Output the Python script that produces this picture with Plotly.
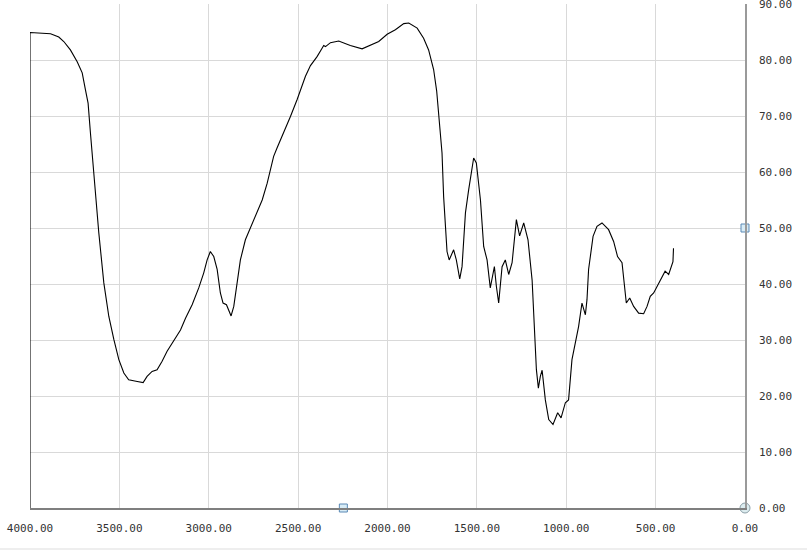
import plotly.graph_objects as go

# Spectrum data (wavenumber, transmittance %)
wavenumber = [4000, 4000, 3885, 3839, 3811, 3774, 3736, 3708, 3690, 3675, 3662, 3647, 3630, 3615, 3587,
              3559, 3531, 3503, 3475, 3448, 3400, 3367, 3345, 3317, 3289, 3261, 3233, 3196, 3158,
              3130, 3093, 3056, 3028, 3009, 2991, 2972, 2953, 2935, 2920, 2901, 2888, 2875, 2860,
              2841, 2823, 2795, 2767, 2729, 2701, 2673, 2637, 2618, 2581, 2543, 2506, 2459, 2431,
              2394, 2366, 2357, 2347, 2319, 2273, 2208, 2142, 2096, 2049, 2002, 1956, 1909, 1881,
              1834, 1798, 1770, 1742, 1725, 1710, 1695, 1686, 1676, 1667, 1655, 1630, 1615, 1596,
              1583, 1564, 1546, 1518, 1503, 1480, 1462, 1443, 1425, 1402, 1391, 1378, 1359, 1341,
              1322, 1303, 1279, 1261, 1238, 1214, 1191, 1186, 1178, 1167, 1156, 1145, 1135, 1126,
              1117, 1098, 1074, 1048, 1029, 1005, 987, 968, 949, 931, 912, 893, 884, 875, 850, 828,
              800, 763, 735, 713, 688, 679, 664, 645, 623, 595, 567, 548, 530, 511, 492, 474, 447,
              427, 403, 400]
transmittance = [0, 84.9, 84.7, 84.1, 83.3, 81.8, 79.7, 77.7, 74.7, 72.3, 67.0, 61.0, 55.0, 49.1, 40.2,
                 34.2, 30.1, 26.5, 24.1, 22.9, 22.6, 22.4, 23.5, 24.4, 24.7, 26.2, 28.0, 29.8, 31.8,
                 33.9, 36.3, 39.3, 42.0, 44.3, 45.8, 44.9, 42.6, 38.4, 36.6, 36.3, 35.1, 34.3, 36.0,
                 40.2, 44.3, 47.9, 50.0, 52.7, 55.0, 58.0, 62.8, 64.3, 67.0, 69.9, 72.9, 77.1, 79.0,
                 80.6, 82.1, 82.6, 82.4, 83.1, 83.4, 82.6, 82.0, 82.6, 83.3, 84.6, 85.4, 86.5, 86.6,
                 85.7, 83.9, 81.8, 78.3, 74.5, 69.3, 63.4, 55.6, 49.7, 45.8, 44.3, 46.1, 44.3, 40.9,
                 43.1, 52.7, 56.8, 62.5, 61.6, 55.0, 46.7, 44.3, 39.3, 43.1, 39.6, 36.6, 43.1, 44.3,
                 41.7, 43.8, 51.5, 48.6, 50.9, 47.9, 40.7, 37.2, 31.3, 24.7, 21.4, 23.5, 24.6, 21.7,
                 19.3, 15.8, 14.9, 17.0, 16.1, 18.8, 19.3, 26.5, 29.5, 32.4, 36.6, 34.5, 37.2, 42.6,
                 48.5, 50.3, 50.9, 49.7, 47.6, 44.9, 43.8, 40.8, 36.6, 37.5, 36.0, 34.8, 34.7, 36.0,
                 37.8, 38.4, 39.6, 40.8, 42.3, 41.7, 44.0, 46.4]

x_ticks = [4000, 3500, 3000, 2500, 2000, 1500, 1000, 500, 0]
y_ticks = [0, 10, 20, 30, 40, 50, 60, 70, 80, 90]

# Axis handles (decorative)
square_handle_x = [0, 2247]
square_handle_y = [50, 0]
circle_handle_x = [0]
circle_handle_y = [0]

FONT = "DejaVu Sans Mono"

fig = go.Figure()
fig.add_trace(go.Scatter(x=wavenumber, y=transmittance, mode="lines", cliponaxis=False,
                         line=dict(color="#000000", width=1.1), showlegend=False,
                         hoverinfo="x+y"))
fig.add_trace(go.Scatter(x=square_handle_x, y=square_handle_y, mode="markers", cliponaxis=False,
                         marker=dict(symbol="square", size=8, color="#d8ecf6",
                                     line=dict(color="#5a89b5", width=1)),
                         showlegend=False, hoverinfo="skip"))
fig.add_trace(go.Scatter(x=circle_handle_x, y=circle_handle_y, mode="markers", cliponaxis=False,
                         marker=dict(symbol="circle", size=10, color="#dcecef",
                                     line=dict(color="#8a9ea6", width=1)),
                         showlegend=False, hoverinfo="skip"))

fig.update_layout(
    width=807, height=550,
    margin=dict(l=30, r=62, t=4, b=42, autoexpand=False),
    paper_bgcolor="#ffffff", plot_bgcolor="#ffffff",
    font=dict(family=FONT, size=11, color="#333333"),
    xaxis=dict(range=[4000, 0], tickvals=x_ticks, tickformat=".2f",
               showgrid=True, gridcolor="#d9d9d9", gridwidth=1, zeroline=False,
               showline=True, linecolor="#7f7f7f", linewidth=1.5, ticks="",
               ticklabelstandoff=9, ticklabeloverflow="allow",
               automargin=False, fixedrange=True),
    yaxis=dict(range=[0, 90], tickvals=y_ticks, tickformat=".2f", side="right",
               showgrid=True, gridcolor="#d9d9d9", gridwidth=1, zeroline=False,
               showline=True, linecolor="#9a9a9a", linewidth=1.5, ticks="",
               ticklabelstandoff=10, ticklabeloverflow="allow",
               automargin=False, fixedrange=True),
    shapes=[dict(type="line", xref="paper", yref="paper", x0=-0.05, x1=1.1,
                 y0=-41 / 504, y1=-41 / 504, line=dict(color="#dddddd", width=1))],
)

fig.write_html("out.html", config={"displayModeBar": False},
               post_script="document.body.style.margin='0';document.body.style.overflow='hidden';")
